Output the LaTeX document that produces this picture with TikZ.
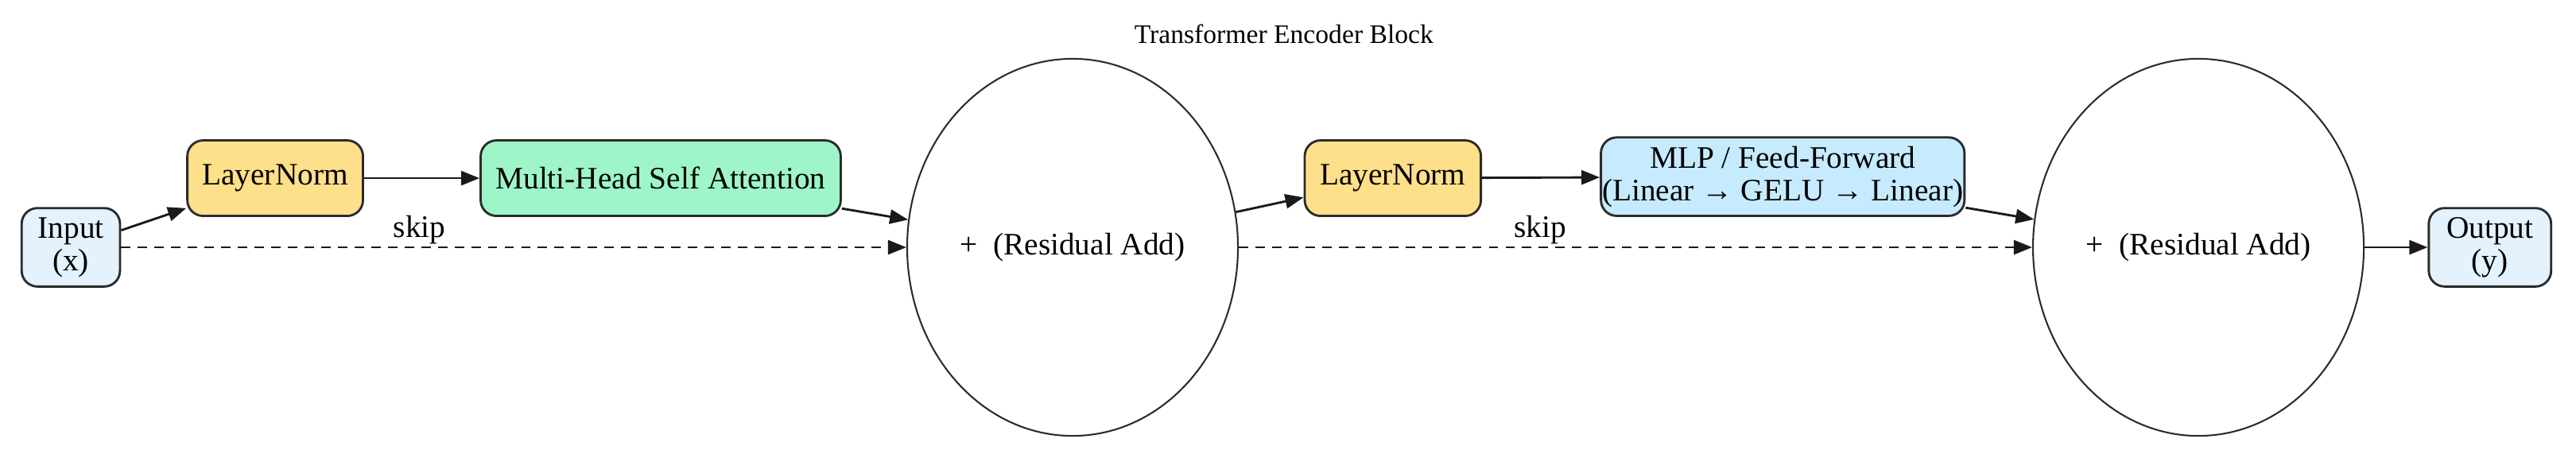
\documentclass[tikz,border=0pt]{standalone}
\usepackage{fontspec}
\setmainfont{Liberation Serif}
\usetikzlibrary{arrows.meta, shapes.geometric}

\definecolor{inblue}{HTML}{E3F2FD}
\definecolor{normyellow}{HTML}{FFE08A}
\definecolor{attgreen}{HTML}{9DF5C8}
\definecolor{mlpblue}{HTML}{C7EBFE}
\definecolor{edgegray}{HTML}{2B2B2B}
\definecolor{linkblack}{HTML}{1A1A1A}

\begin{document}
\begin{tikzpicture}[
    font=\fontsize{15.2pt}{15.8pt}\selectfont,
    block/.style={rectangle, rounded corners=0.27cm, draw=edgegray, line width=1.1pt,
      inner sep=0pt, align=center, minimum height=1.29cm},
    addnode/.style={ellipse, draw=edgegray, line width=0.8pt, inner sep=0pt,
      minimum width=5.65cm, minimum height=6.44cm},
    flow/.style={draw=linkblack, line width=1.1pt, -{Triangle[length=8.9pt, width=6.9pt]}},
    skipflow/.style={flow, dash pattern=on 4.6pt off 3.5pt}
  ]
  \useasboundingbox (0, 0) rectangle (44, 7.877);
  \node (title) [font=\fontsize{13pt}{15pt}\selectfont] at (21.93, 7.30) {Transformer Encoder Block};

  \node (in) [block, fill=inblue, minimum width=1.68cm, minimum height=1.34cm] at (1.21, 3.653) {Input\\(x)};
  \node (ln1) [block, fill=normyellow, minimum width=3.0cm] at (4.70, 4.834) {LayerNorm};
  \node (att) [block, fill=attgreen, minimum width=6.15cm] at (11.285, 4.834) {Multi-Head Self Attention};
  \node (add1) [addnode] at (18.32, 3.653) {+\ \ (Residual Add)};
  \node (ln2) [block, fill=normyellow, minimum width=3.01cm] at (23.79, 4.834) {LayerNorm};
  \node (mlp) [block, fill=mlpblue, minimum width=6.21cm, minimum height=1.34cm] at (30.45, 4.86) {MLP / Feed-Forward\\(Linear → GELU → Linear)};
  \node (add2) [addnode] at (37.55, 3.653) {+\ \ (Residual Add)};
  \node (out) [block, fill=inblue, minimum width=2.09cm, minimum height=1.34cm] at (42.53, 3.653) {Output\\(y)};

  \draw[flow] (in) -- (ln1);
  \draw[flow] (ln1) -- (att);
  \draw[flow] (att) -- (add1);
  \draw[skipflow] (in) -- node[pos=0.38, above, inner sep=1pt] {skip} (add1);
  \draw[flow] (add1) -- (ln2);
  \draw[flow] (ln2) -- (mlp);
  \draw[flow] (mlp) -- (add2);
  \draw[skipflow] (add1) -- node[pos=0.38, above, inner sep=1pt] {skip} (add2);
  \draw[flow] (add2) -- (out);
\end{tikzpicture}
\end{document}
